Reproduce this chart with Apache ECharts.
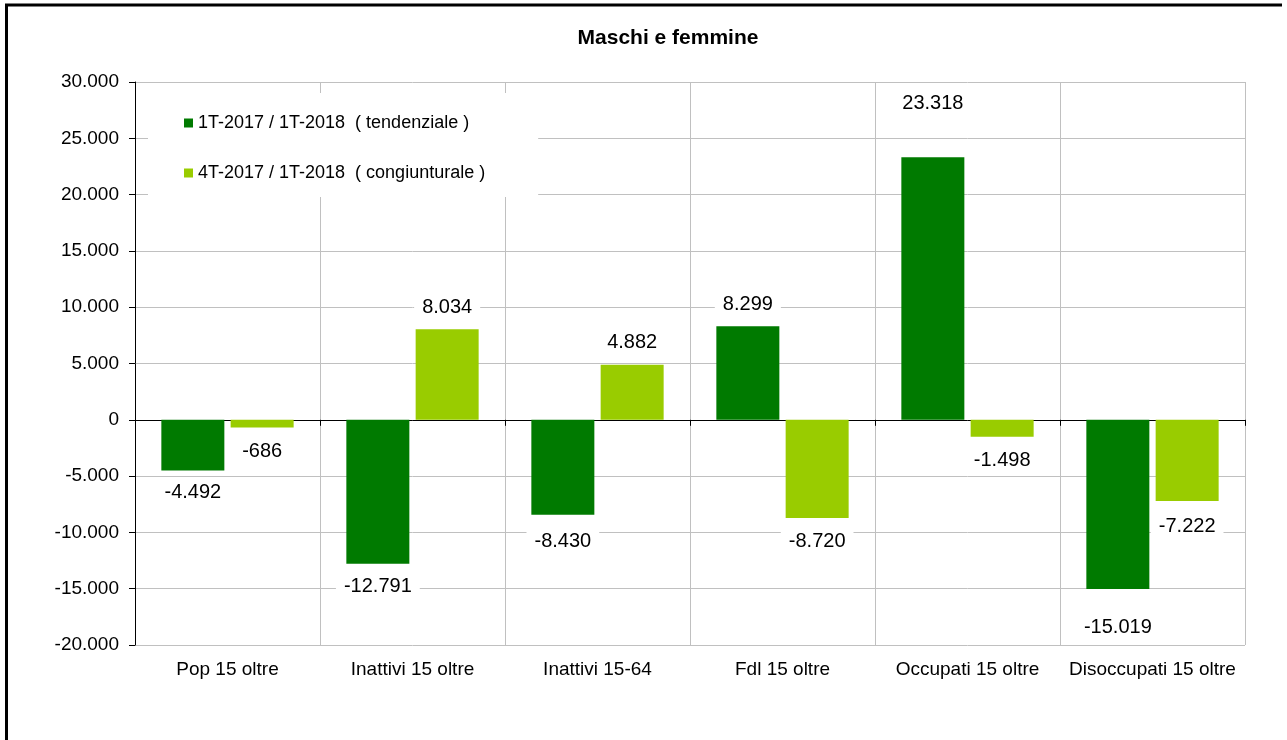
<!DOCTYPE html>
<html>
<head>
<meta charset="utf-8">
<script src="https://cdn.jsdelivr.net/npm/echarts@6/dist/echarts.min.js"></script>
<style>
html,body{margin:0;padding:0;background:#fff;}
#chart{width:1287px;height:740px;}
</style>
</head>
<body>
<div id="chart"></div>
<script>
const title = 'Maschi e femmine';
const categories = ['Pop 15 oltre', 'Inattivi 15 oltre', 'Inattivi 15-64', 'Fdl 15 oltre', 'Occupati 15 oltre', 'Disoccupati 15 oltre'];
const seriesNames = ['1T-2017 / 1T-2018  ( tendenziale )', '4T-2017 / 1T-2018  ( congiunturale )'];
const tendenziale = [-4492, -12791, -8430, 8299, 23318, -15019];
const congiunturale = [-686, 8034, 4882, -8720, -1498, -7222];
const yMin = -20000, yMax = 30000, yStep = 5000;

function fmt(v) {
  const s = Math.abs(Math.round(v)).toString().replace(/\B(?=(\d{3})+(?!\d))/g, '.');
  return (v < 0 ? '-' : '') + s;
}

// label distances (style only), per series and category
const labelDistances = [
  [10, 11, 15, 10, 42, 27],
  [12, 10, 10, 11, 12, 13]
];
const colors = ['#007A00', '#99CC00'];
const FONT = '"Liberation Sans", Arial, sans-serif';

function buildSeries(idx, values) {
  return {
    name: seriesNames[idx],
    type: 'bar',
    xAxisIndex: 0,
    barWidth: 63,
    barGap: '10%',
    itemStyle: { color: colors[idx] },
    data: values.map((v, i) => ({
      value: v,
      label: {
        position: v >= 0 ? 'top' : 'bottom',
        distance: labelDistances[idx][i]
      }
    })),
    label: {
      show: true,
      formatter: p => fmt(p.value),
      fontFamily: FONT,
      fontSize: 20,
      color: '#000',
      backgroundColor: '#fff',
      padding: [2, 8, 2, 8]
    }
  };
}

const chart = echarts.init(document.getElementById('chart'), null, { renderer: 'canvas' });
chart.setOption({
  animation: false,
  backgroundColor: '#fff',
  title: {
    text: title,
    left: 668,
    textAlign: 'center',
    top: 28,
    padding: 0,
    textStyle: { fontFamily: FONT, fontSize: 21, fontWeight: 'bold', color: '#000' }
  },
  legend: {
    orient: 'vertical',
    left: 148,
    top: 93,
    padding: [21, 53, 15, 36],
    backgroundColor: '#fff',
    itemWidth: 9,
    itemHeight: 9,
    itemGap: 32,
    icon: 'rect',
    textStyle: { fontFamily: FONT, fontSize: 18, color: '#000' },
    data: seriesNames
  },
  grid: { left: 135, right: 42, top: 82, bottom: 95, containLabel: false },
  xAxis: [
    {
      type: 'category',
      data: categories,
      position: 'bottom',
      axisLine: { show: false, onZero: false },
      axisTick: { show: false, interval: 0 },
      axisLabel: { interval: 0, fontFamily: FONT, fontSize: 19, color: '#000', margin: 15 },
      splitLine: { show: true, interval: 0, lineStyle: { color: '#c0c0c0', width: 1 } }
    },
    {
      type: 'category',
      data: categories,
      position: 'top',
      axisLine: { show: true, onZero: true, lineStyle: { color: '#000', width: 1 } },
      axisTick: { show: true, interval: 0, inside: true, length: 6, lineStyle: { color: '#000' } },
      axisLabel: { show: false, interval: 0 },
      splitLine: { show: false }
    }
  ],
  yAxis: {
    type: 'value',
    min: yMin,
    max: yMax,
    interval: yStep,
    axisLine: { show: true, lineStyle: { color: '#000', width: 1 } },
    axisTick: { show: true, length: 6, lineStyle: { color: '#000' } },
    axisLabel: { fontFamily: FONT, fontSize: 19, color: '#000', margin: 16, formatter: v => fmt(v) },
    splitLine: { show: true, lineStyle: { color: '#c0c0c0', width: 1 } }
  },
  series: [buildSeries(0, tendenziale), buildSeries(1, congiunturale)],
  graphic: [
    { type: 'line', shape: { x1: 5, y1: 5, x2: 1282, y2: 5 }, style: { stroke: '#000', lineWidth: 3 }, z: 100 },
    { type: 'line', shape: { x1: 6.5, y1: 4, x2: 6.5, y2: 740 }, style: { stroke: '#000', lineWidth: 3 }, z: 100 }
  ]
});
</script>
</body>
</html>
